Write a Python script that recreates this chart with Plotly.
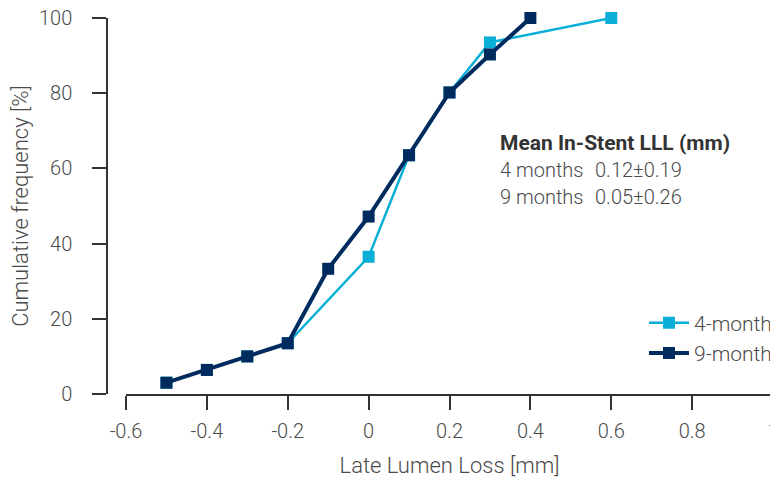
import plotly.graph_objects as go

x4 = [-0.5, -0.4, -0.3, -0.2, 0.0, 0.1, 0.2, 0.3, 0.6]
y4 = [3.0, 6.4, 10.0, 13.5, 36.5, 63.5, 80.2, 93.5, 100.0]
x9 = [-0.5, -0.4, -0.3, -0.2, -0.1, 0.0, 0.1, 0.2, 0.3, 0.4]
y9 = [3.0, 6.4, 10.0, 13.5, 33.3, 47.2, 63.5, 80.2, 90.3, 100.0]

c4 = "#0AAFD8"
c9 = "#002B5E"
txt = "#4a4a4a"
FONT = "Roboto"

fig = go.Figure()
fig.add_trace(go.Scatter(x=x4, y=y4, mode="lines+markers", name="4-month",
                         line=dict(color=c4, width=2.5),
                         marker=dict(symbol="square", size=12, color=c4),
                         cliponaxis=False))
fig.add_trace(go.Scatter(x=x9, y=y9, mode="lines+markers", name="9-month",
                         line=dict(color=c9, width=4),
                         marker=dict(symbol="square", size=12, color=c9),
                         cliponaxis=False))

# page body has an 8px margin: work in figure coords = screen - 8
OFF = 8
W, H = 770, 470
ml, mr, mt, mb = 107 - OFF, 5, 18 - OFF, H - (394 - OFF)
pw = W - ml - mr
ph = H - mt - mb
fig.update_layout(
    width=W, height=H,
    margin=dict(l=ml, r=mr, t=mt, b=mb, autoexpand=False),
    paper_bgcolor="white", plot_bgcolor="white",
    font=dict(family=FONT, size=20, color=txt, weight=300),
    showlegend=True,
    legend=dict(x=1.0 + 4 / pw, xanchor="right", y=0.149, yanchor="middle",
                bgcolor="rgba(0,0,0,0)", font=dict(size=21, color=txt),
                itemwidth=40, tracegroupgap=0),
    xaxis=dict(domain=[(126 - 107) / pw, 1.0], range=[-0.6, 1.0],
               automargin=False, ticklabeloverflow="allow",
               tickvals=[-0.6, -0.4, -0.2, 0, 0.2, 0.4, 0.6, 0.8, 1.0],
               ticktext=["-0.6", "-0.4", "-0.2", "0", "0.2", "0.4", "0.6", "0.8", "1"],
               showline=True, linecolor="#333", linewidth=1.5,
               ticks="outside", ticklen=14, tickwidth=1.5, tickcolor="#333",
               showgrid=False, zeroline=False, ticklabelstandoff=4,
               title=dict(text="Late Lumen Loss [mm]", standoff=16,
                          font=dict(size=22, color=txt))),
    yaxis=dict(anchor="free", position=0, range=[0, 100], automargin=False,
               ticklabeloverflow="allow",
               tickvals=[0, 20, 40, 60, 80, 100],
               showline=True, linecolor="#333", linewidth=1.5,
               ticks="outside", ticklen=14, tickwidth=1.5, tickcolor="#333",
               showgrid=False, zeroline=False, ticklabelstandoff=16,
               title=dict(text="Cumulative frequency [%]", standoff=11,
                          font=dict(size=22, color=txt))),
)

fig.add_annotation(x=498, y=143, showarrow=False,
                   text="<b>Mean In-Stent LLL (mm)</b>", xanchor="left", yanchor="middle",
                   font=dict(size=21, color="#333", weight=500))
rows = [("4 months", "0.12±0.19", 170), ("9 months", "0.05±0.26", 197)]
for lab, val, py in rows:
    fig.add_annotation(x=498, y=py, showarrow=False, text=lab,
                       xanchor="left", yanchor="middle",
                       font=dict(size=20, color=txt))
    fig.add_annotation(x=593, y=py, showarrow=False, text=val,
                       xanchor="left", yanchor="middle",
                       font=dict(size=20, color=txt))

# convert screen pixel positions to paper coords
for a in fig.layout.annotations:
    px, py = a.x - OFF, a.y - OFF
    a.xref = "paper"; a.yref = "paper"
    a.x = (px - ml) / pw
    a.y = 1 - (py - mt) / ph

fig.write_html("out.html")
